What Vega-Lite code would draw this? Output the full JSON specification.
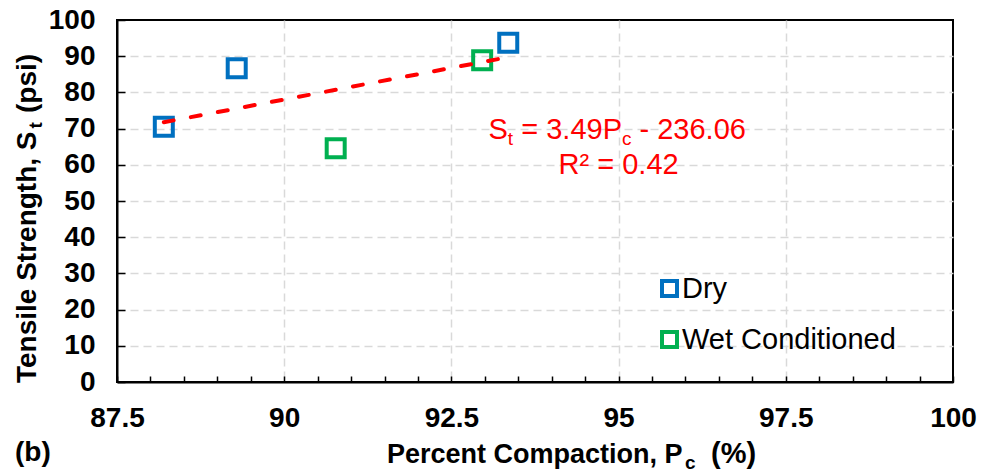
{
  "$schema": "https://vega.github.io/schema/vega-lite/v6.json",
  "autosize": "none",
  "width": 836,
  "height": 362,
  "padding": {"left": 117, "top": 20, "right": 29, "bottom": 94},
  "background": "white",
  "config": {
    "view": {"stroke": "black", "strokeWidth": 2},
    "font": "Liberation Sans"
  },
  "datasets": {
    "points": [
      {"pc": 88.2, "st": 70.5, "type": "Dry"},
      {"pc": 89.29, "st": 86.7, "type": "Dry"},
      {"pc": 93.35, "st": 93.7, "type": "Dry"},
      {"pc": 90.77, "st": 64.6, "type": "Wet Conditioned"},
      {"pc": 92.96, "st": 88.9, "type": "Wet Conditioned"}
    ],
    "trend": [
      {"pc": 88.2, "st": 71.76},
      {"pc": 93.35, "st": 89.73}
    ],
    "one": [{}]
  },
  "layer": [
    {
      "data": {"name": "points"},
      "mark": {"type": "point", "shape": "square", "filled": false, "size": 324, "strokeWidth": 4, "opacity": 1},
      "encoding": {
        "x": {
          "field": "pc", "type": "quantitative",
          "scale": {"domain": [87.5, 100], "nice": false, "zero": false},
          "axis": {
            "title": null,
            "values": [87.5, 88, 88.5, 89, 89.5, 90, 90.5, 91, 91.5, 92, 92.5, 93, 93.5, 94, 94.5, 95, 95.5, 96, 96.5, 97, 97.5, 98, 98.5, 99, 99.5, 100],
            "tickCount": 40,
            "labelExpr": "(datum.value * 2) % 5 === 0 ? toString(datum.value) : ''",
            "labelFont": "Liberation Sans", "labelFontSize": 28, "labelFontWeight": "bold", "labelColor": "black",
            "labelPadding": 28, "labelFlush": false, "labelOverlap": false, "labelBound": false,
            "domainColor": "black", "domainWidth": 2,
            "tickColor": "black", "tickWidth": 1.5, "tickSize": -6,
            "grid": true, "gridColor": "#D9D9D9", "gridWidth": 1.5, "gridDash": [8, 5],
            "gridOpacity": {"condition": {"test": "(datum.value * 2) % 5 === 0 && datum.value > 87.6 && datum.value < 99.9", "value": 1}, "value": 0}
          }
        },
        "y": {
          "field": "st", "type": "quantitative",
          "scale": {"domain": [0, 100], "nice": false},
          "axis": {
            "title": null,
            "values": [0, 10, 20, 30, 40, 50, 60, 70, 80, 90, 100],
            "tickCount": 20,
            "labelFont": "Liberation Sans", "labelFontSize": 28, "labelFontWeight": "bold", "labelColor": "black",
            "labelPadding": 30, "labelFlush": false, "labelOverlap": false, "labelBound": false,
            "domainColor": "black", "domainWidth": 2,
            "tickColor": "black", "tickWidth": 1.5, "tickSize": -8,
            "grid": true, "gridColor": "#D9D9D9", "gridWidth": 1.5, "gridDash": [8, 5],
            "gridOpacity": {"condition": {"test": "datum.value > 0 && datum.value < 100", "value": 1}, "value": 0}
          }
        },
        "color": {
          "field": "type", "type": "nominal",
          "scale": {"domain": ["Dry", "Wet Conditioned"], "range": ["#0070C0", "#00B050"]},
          "legend": {
            "title": null, "orient": "none", "legendX": 538, "legendY": 254,
            "padding": 0,
            "symbolType": "square", "symbolSize": 225, "symbolStrokeWidth": 4, "symbolFillColor": "white",
            "labelFont": "Liberation Sans", "labelFontSize": 29, "labelColor": "black", "labelLimit": 400,
            "labelOffset": -2, "rowPadding": 20
          }
        }
      }
    },
    {
      "data": {"name": "trend"},
      "mark": {"type": "line", "color": "#FF0000", "strokeWidth": 4, "strokeDash": [10, 17.5], "strokeCap": "round"},
      "encoding": {
        "x": {"field": "pc", "type": "quantitative"},
        "y": {"field": "st", "type": "quantitative"}
      }
    },
    {
      "data": {"name": "one"},
      "mark": {"type": "text", "text": "S", "align": "left", "baseline": "alphabetic", "font": "Liberation Sans", "fontSize": 29, "color": "#FF0000"},
      "encoding": {"x": {"datum": 93.055}, "y": {"datum": 67.0}}
    },
    {
      "data": {"name": "one"},
      "mark": {"type": "text", "text": "t", "align": "left", "baseline": "alphabetic", "font": "Liberation Sans", "fontSize": 19, "color": "#FF0000", "dx": 19.3, "dy": 6},
      "encoding": {"x": {"datum": 93.055}, "y": {"datum": 67.0}}
    },
    {
      "data": {"name": "one"},
      "mark": {"type": "text", "text": "= 3.49P", "align": "left", "baseline": "alphabetic", "font": "Liberation Sans", "fontSize": 29, "color": "#FF0000", "dx": 32.7},
      "encoding": {"x": {"datum": 93.055}, "y": {"datum": 67.0}}
    },
    {
      "data": {"name": "one"},
      "mark": {"type": "text", "text": "c", "align": "left", "baseline": "alphabetic", "font": "Liberation Sans", "fontSize": 19, "color": "#FF0000", "dx": 133.4, "dy": 6},
      "encoding": {"x": {"datum": 93.055}, "y": {"datum": 67.0}}
    },
    {
      "data": {"name": "one"},
      "mark": {"type": "text", "text": "- 236.06", "align": "left", "baseline": "alphabetic", "font": "Liberation Sans", "fontSize": 29, "color": "#FF0000", "dx": 151.0},
      "encoding": {"x": {"datum": 93.055}, "y": {"datum": 67.0}}
    },
    {
      "data": {"name": "one"},
      "mark": {"type": "text", "text": "R² = 0.42", "align": "center", "baseline": "alphabetic", "font": "Liberation Sans", "fontSize": 29, "color": "#FF0000"},
      "encoding": {"x": {"datum": 95.0}, "y": {"datum": 57.5}}
    },
    {
      "data": {"name": "one"},
      "mark": {"type": "text", "text": "Percent Compaction, P", "align": "left", "baseline": "alphabetic", "font": "Liberation Sans", "fontSize": 27, "fontWeight": "bold", "color": "black"},
      "encoding": {"x": {"datum": 91.537}, "y": {"datum": -22.38}}
    },
    {
      "data": {"name": "one"},
      "mark": {"type": "text", "text": "c", "align": "left", "baseline": "alphabetic", "font": "Liberation Sans", "fontSize": 19, "fontWeight": "bold", "color": "black", "dx": 298, "dy": 6},
      "encoding": {"x": {"datum": 91.537}, "y": {"datum": -22.38}}
    },
    {
      "data": {"name": "one"},
      "mark": {"type": "text", "text": "(%)", "align": "left", "baseline": "alphabetic", "font": "Liberation Sans", "fontSize": 29, "fontWeight": "bold", "color": "black", "dx": 324},
      "encoding": {"x": {"datum": 91.537}, "y": {"datum": -22.38}}
    },
    {
      "data": {"name": "one"},
      "mark": {"type": "text", "text": "Tensile Strength, S", "align": "left", "baseline": "alphabetic", "angle": 270, "font": "Liberation Sans", "fontSize": 28, "fontWeight": "bold", "color": "black"},
      "encoding": {"x": {"datum": 86.289}, "y": {"datum": -0.28}}
    },
    {
      "data": {"name": "one"},
      "mark": {"type": "text", "text": "t", "align": "left", "baseline": "alphabetic", "angle": 270, "font": "Liberation Sans", "fontSize": 19, "fontWeight": "bold", "color": "black", "dx": 254.5, "dy": 6},
      "encoding": {"x": {"datum": 86.289}, "y": {"datum": -0.28}}
    },
    {
      "data": {"name": "one"},
      "mark": {"type": "text", "text": "(psi)", "align": "left", "baseline": "alphabetic", "angle": 270, "font": "Liberation Sans", "fontSize": 28, "fontWeight": "bold", "color": "black", "dx": 270},
      "encoding": {"x": {"datum": 86.289}, "y": {"datum": -0.28}}
    },
    {
      "data": {"name": "one"},
      "mark": {"type": "text", "text": "(b)", "align": "left", "baseline": "alphabetic", "font": "Liberation Sans", "fontSize": 28, "fontWeight": "bold", "color": "black"},
      "encoding": {"x": {"datum": 85.975}, "y": {"datum": -21.8}}
    }
  ]
}
